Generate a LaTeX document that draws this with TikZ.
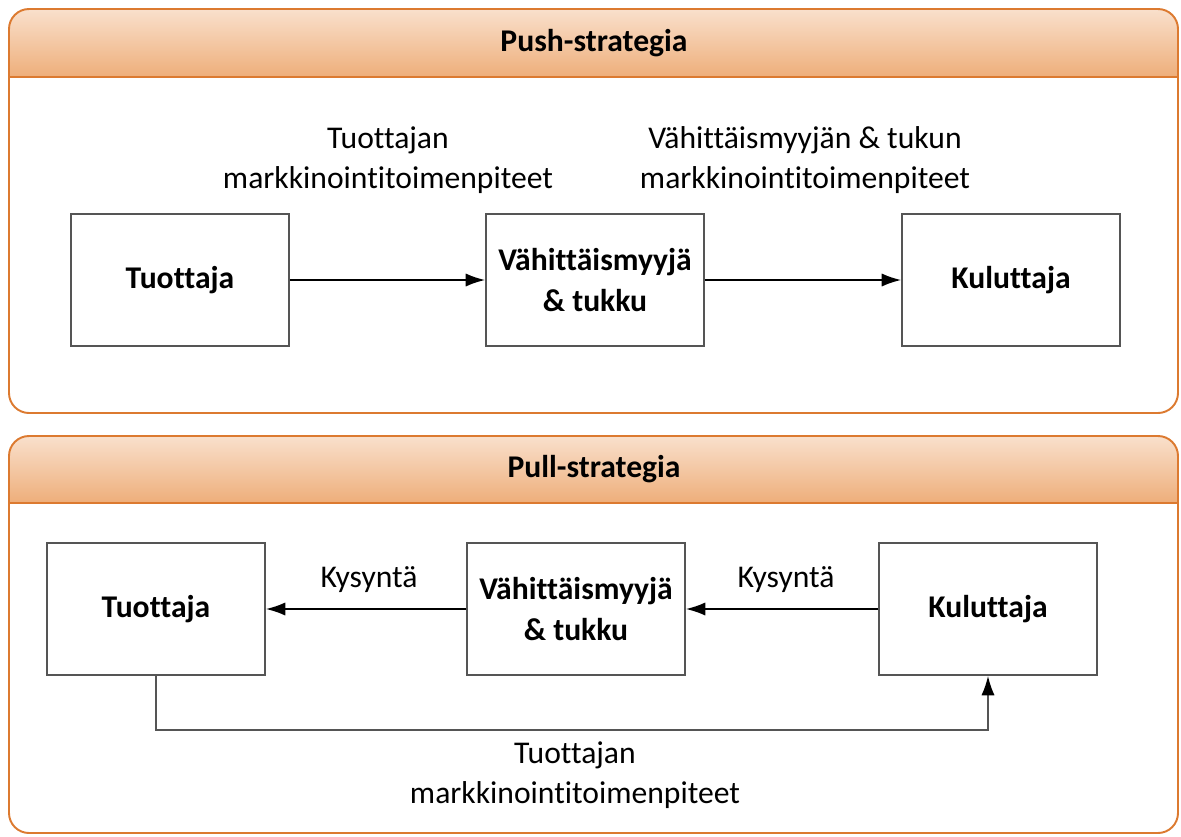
\documentclass[tikz,border=0pt]{standalone}
\usepackage{fontspec}
\setmainfont[Ligatures=NoCommon]{Carlito}
\usetikzlibrary{arrows.meta}
\definecolor{panelline}{RGB}{220,122,48}
\definecolor{headtop}{RGB}{249,224,204}
\definecolor{headbot}{RGB}{238,174,122}
\definecolor{boxline}{RGB}{85,85,85}

\begin{document}
\begin{tikzpicture}[x=0.02cm,y=-0.02cm,
  font=\fontsize{18}{23}\selectfont,
  party/.style={rectangle,draw=boxline,fill=white,line width=1.1pt,minimum width=4.36cm,minimum height=2.64cm,align=center,font=\fontsize{18}{23.5}\selectfont\bfseries},
  flow/.style={-{Latex[length=11pt,width=7.5pt,color=black]},line width=0.9pt},
  note/.style={align=center}
]
\useasboundingbox (0,0) rectangle (1181,836);

\foreach \ya/\yb/\yc/\name/\title in {9/77/413/push/Push-strategia,436/503/833/pull/Pull-strategia}{
  \begin{scope}
    \clip[rounded corners=0.4cm] (9,\ya) rectangle (1178,\yc);
    \fill[top color=headtop,bottom color=headbot] (9,\ya) rectangle (1178,\yb);
  \end{scope}
  \draw[panelline,line width=1.1pt] (9,\yb) -- (1178,\yb);
  \draw[panelline,line width=1.1pt,rounded corners=0.4cm] (9,\ya) rectangle (1178,\yc);
  \node[font=\fontsize{18}{23}\selectfont\bfseries] (\name) at (594,{(\ya+\yb)/2}) {\title};
}

\node[party] (tuotA) at (180,280) {Tuottaja};
\node[party] (vahA) at (595,280) {Vähittäismyyjä\\\& tukku};
\node[party] (kulA) at (1011,280) {Kuluttaja};
\draw[flow] (tuotA) -- (vahA);
\draw[flow] (vahA) -- (kulA);
\node[note] (markA) at (388,160) {Tuottajan\\markkinointitoimenpiteet};
\node[note] (markB) at (805,160) {Vähittäismyyjän \& tukun\\markkinointitoimenpiteet};

\node[party] (tuotB) at (156,609) {Tuottaja};
\node[party] (vahB) at (576,609) {Vähittäismyyjä\\\& tukku};
\node[party] (kulB) at (988,609) {Kuluttaja};
\draw[flow] (vahB) -- (tuotB);
\draw[flow] (kulB) -- (vahB);
\node (kysA) at (369,580) {Kysyntä};
\node (kysB) at (786,580) {Kysyntä};
\draw[flow,boxline] (tuotB.south) -- (tuotB.south |- 0,730) -| (kulB.south);
\node[note] (markC) at (575,775) {Tuottajan\\markkinointitoimenpiteet};

\end{tikzpicture}
\end{document}
